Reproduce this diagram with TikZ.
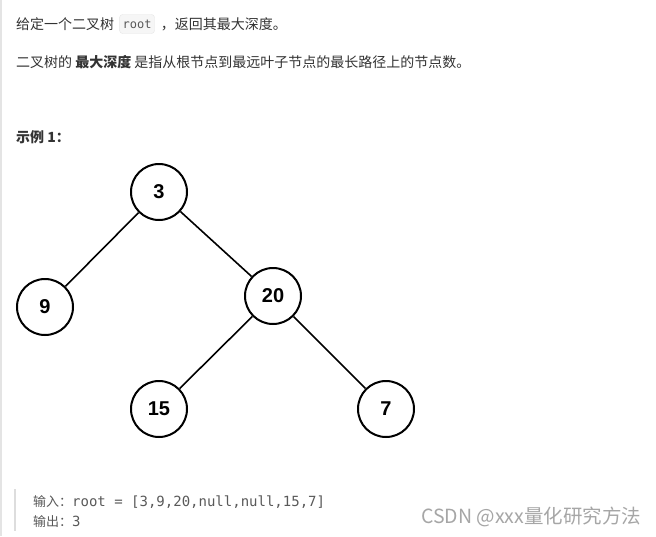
\documentclass[tikz,border=0pt]{standalone}
\usepackage{fontspec}
\usepackage{tikz}
\usetikzlibrary{positioning}
\newfontfamily\cjk{Noto Sans CJK SC}
\newfontfamily\numfont{Liberation Sans}
\newfontfamily\codefont{DejaVu Sans Mono}
\definecolor{txt}{HTML}{333333}
\definecolor{codegray}{HTML}{595959}
\definecolor{codebg}{HTML}{F6F6F6}
\definecolor{codeborder}{HTML}{E6E6E6}
\definecolor{barcolor}{HTML}{DDDDDD}
\definecolor{wmark}{HTML}{A6A6A6}
\tikzset{treenode/.style={circle,draw,line width=2pt,minimum size=56pt,inner sep=0pt,
		font=\numfont\fontsize{20}{20}\selectfont\bfseries},
	 treeedge/.style={line width=1.6pt},
	 plain/.style={inner sep=0pt,anchor=west,text=txt,font=\cjk\fontsize{14}{14}\selectfont},
	 codebox/.style={fill=codebg,draw=codeborder,rounded corners=3pt,inner xsep=3pt,
		minimum height=19pt,text=codegray,font=\codefont\fontsize{12}{12}\selectfont},
	 node distance = 4pt
	 }

\begin{document}
\begin{tikzpicture}[x=1pt,y=-1pt]
	\useasboundingbox (0,0) rectangle (656,536);
	\fill[white] (0,0) rectangle (656,536);
	\fill[barcolor!80] (0,0) rectangle (2,536);
	% problem text
	\node[plain] (l1a) at (16,24) {给定一个二叉树};
	\node[codebox] (code) [right=5pt of l1a] {root};
	\node[plain] (l1b) [right=6pt of code] {，返回其最大深度。};
	\node[plain] (l2) at (16,62) {二叉树的 {\bfseries 最大深度} 是指从根节点到最远叶子节点的最长路径上的节点数。};
	\node[plain,font=\cjk\fontsize{14}{14}\selectfont\bfseries] (ex) at (16,137) {示例 1：};
	% the tree
	\node[treenode] (n3) at (159,192) {3};
	\node[treenode] (n9) at (45,307) {9};
	\node[treenode] (n20) at (273,296) {20};
	\node[treenode] (n15) at (159,409) {15};
	\node[treenode] (n7) at (386,409) {7};
	\draw[treeedge] (n3) to (n9);
	\draw[treeedge] (n3) to (n20);
	\draw[treeedge] (n20) to (n15);
	\draw[treeedge] (n20) to (n7);
	% input / output
	\fill[barcolor] (14,489) rectangle (16,531);
	\node[plain,text=codegray,font=\cjk\fontsize{13}{13}\selectfont] (inp) at (33,502)
		{输入：{\codefont\fontsize{14}{14}\selectfont root = [3,9,20,null,null,15,7]}};
	\node[plain,text=codegray,font=\cjk\fontsize{13}{13}\selectfont] (outp) at (33,522)
		{输出：{\codefont\fontsize{14}{14}\selectfont 3}};
	\node[plain,text=wmark,font=\cjk\fontsize{19.5}{19.5}\selectfont] (wm) at (421,517) {CSDN @xxx量化研究方法};
\end{tikzpicture}
\end{document}
